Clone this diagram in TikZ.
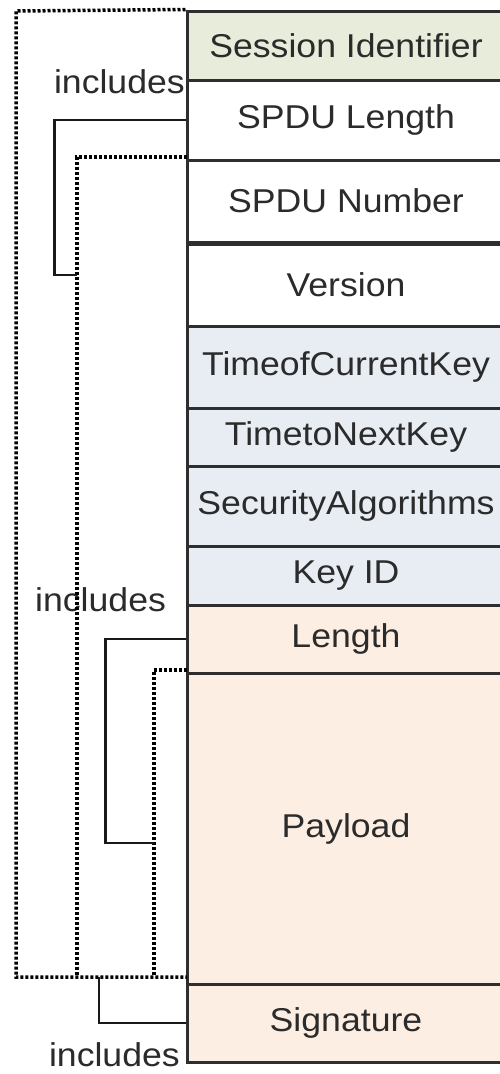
\documentclass[tikz,border=0pt]{standalone}
\usepackage{fontspec}
\setmainfont[FakeStretch=1.08]{Liberation Sans}
\definecolor{linec}{HTML}{2E2E2E}
\definecolor{txt}{HTML}{2B2B2B}
\definecolor{sidc}{HTML}{E8ECDB}
\definecolor{bluec}{HTML}{E8EDF4}
\definecolor{peach}{HTML}{FCEEE3}
\begin{document}
\begin{tikzpicture}[x=1pt,y=-1pt,
  field/.style={draw=linec, line width=3pt, minimum width=318pt, inner sep=0pt, text=txt, font=\fontsize{33}{38}\selectfont},
  lbl/.style={text=txt, font=\fontsize{33}{38}\selectfont, inner sep=0pt},
  brk/.style={draw=black!90, line width=2.8pt},
  dots/.style={draw=black, line width=3.5pt, dash pattern=on 3pt off 2pt}]
\useasboundingbox (0,0) rectangle (500,1074);
\fill[white] (0,0) rectangle (500,1074);
% fields
\node[field, fill=sidc, minimum height=69pt] (sid) at (346,45.5) {Session Identifier};
\node[field, fill=white, minimum height=80pt] (slen) at (346,120) {SPDU Length};
\node[field, fill=white, minimum height=82pt] (snum) at (346,201) {SPDU Number};
\node[field, fill=white, minimum height=82pt] (ver) at (346,285) {Version};
\node[field, fill=bluec, minimum height=82pt] (tock) at (346,367) {TimeofCurrentKey};
\node[field, fill=bluec, minimum height=58pt] (ttnk) at (346,437) {TimetoNextKey};
\node[field, fill=bluec, minimum height=80pt] (sec) at (346,506) {SecurityAlgorithms};
\node[field, fill=bluec, minimum height=59pt] (kid) at (346,575.5) {Key ID};
\node[field, fill=peach, minimum height=68pt] (len) at (346,639) {Length};
\node[field, fill=peach, minimum height=311pt] (pay) at (346,828.5) {Payload};
\node[field, fill=peach, minimum height=78pt] (sig) at (346,1023) {Signature};
% labels
\node[lbl, anchor=east] (inc1) at (185,82) {includes};
\node[lbl, anchor=west] (inc2) at (35,600) {includes};
\node[lbl, anchor=east] (inc3) at (180,1055) {includes};
% coordinates of the dotted enclosures
\coordinate (ob) at (187,977);
\coordinate (obl) at (16,977);
\coordinate (otl) at (16,11);
\coordinate (i1t) at (187,157);
\coordinate (i1c) at (77,157);
\coordinate (i1b) at (77,977);
\coordinate (i2t) at (187,670);
\coordinate (i2c) at (154,670);
\coordinate (i2b) at (154,977);
% dotted enclosures
\draw[dots] (sid.north west) -- (otl) -- (obl) -- (ob);
\draw[dots] (i1t) -- (i1c) -- (i1b);
\draw[dots] (i2t) -- (i2c) -- (i2b);
% brackets
\draw[brk] (slen.west) -- ++(-131,0) |- (77,275);
\draw[brk] (len.west) -- ++(-80,0) |- (154,843);
\draw[brk] (99,977) |- (sig.west);
\end{tikzpicture}
\end{document}
